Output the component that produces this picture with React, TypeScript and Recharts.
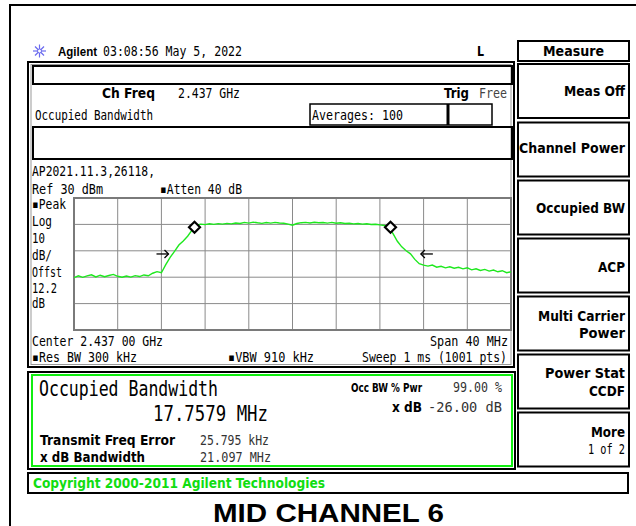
import React from "react";
import { ComposedChart, Line, Scatter, XAxis, YAxis, CartesianGrid, ReferenceArea } from "recharts";

// offset from centre frequency (MHz) and trace level (dBm)
const freqMHz = [
  -20, -19.6, -19.2, -18.8, -18.4, -18, -17.6, -17.2, -16.8, -16.4,
  -16, -15.6, -15.2, -14.8, -14.4, -14, -13.6, -13.2, -12.8, -12.4,
  -12, -11.6, -11.2, -10.8, -10.4, -10, -9.6, -9.2, -8.8, -8.4,
  -8, -7.6, -7.2, -6.8, -6.4, -6, -5.6, -5.2, -4.8, -4.4,
  -4, -3.6, -3.2, -2.8, -2.4, -2, -1.6, -1.2, -0.8, -0.4,
  0, 0.4, 0.8, 1.2, 1.6, 2, 2.4, 2.8, 3.2, 3.6,
  4, 4.4, 4.8, 5.2, 5.6, 6, 6.4, 6.8, 7.2, 7.6,
  8, 8.4, 8.8, 9.2, 9.6, 10, 10.4, 10.8, 11.2, 11.6,
  12, 12.4, 12.8, 13.2, 13.6, 14, 14.4, 14.8, 15.2, 15.6,
  16, 16.4, 16.8, 17.2, 17.6, 18, 18.4, 18.8, 19.2, 19.6,
  20,
];
const levelDbm = [
  -30.4, -28.9, -30.1, -29.0, -28.2, -29.8, -28.5, -29.6, -28.7, -27.9,
  -29.3, -30.0, -29.1, -29.9, -28.8, -29.5, -28.3, -28.9, -27.0, -25.8,
  -26.6, -20.5, -15.0, -10.4, -5.6, -2.5, 1.0, 5.6, 9.3, 10.2,
  9.8, 10.5, 10.0, 10.6, 10.2, 10.8, 10.4, 11.1, 10.7, 11.5,
  11.0, 11.7, 11.2, 10.8, 11.4, 11.0, 11.5, 11.1, 10.9, 10.2,
  9.4, 10.7, 11.3, 11.5, 11.1, 11.6, 11.2, 11.4, 11.0, 11.5,
  10.9, 11.2, 10.7, 10.9, 10.4, 10.7, 10.2, 10.5, 9.9, 10.1,
  9.6, 9.2, 8.5, 3.0, -2.8, -7.0, -10.0, -12.3, -16.5, -19.8,
  -20.9, -21.6, -20.8, -22.4, -21.7, -22.9, -22.1, -23.2, -22.5, -23.7,
  -22.9, -24.4, -23.6, -24.9, -24.1, -25.4, -24.6, -25.9, -25.1, -26.6,
  -25.9,
];

const markerFreq = [-8.97, 8.97];
const markerLevel = [7.8, 7.8];
const arrowFreq = [-11.9, 12.3];
const arrowLevel = [-12.4, -12.4];
const arrowDir = ["right", "left"];

const xTicks = [-20, -16, -12, -8, -4, 0, 4, 8, 12, 16, 20];
const yTicks = [30, 20, 10, 0, -10, -20, -30, -40, -50, -60, -70];

const trace = freqMHz.map((f, i) => ({ freq: f, level: levelDbm[i] }));
const markers = markerFreq.map((f, i) => ({ freq: f, level: markerLevel[i] }));
const arrows = arrowFreq.map((f, i) => ({ freq: f, level: arrowLevel[i], dir: arrowDir[i] }));

const MONO = "'DejaVu Sans Mono', monospace";
const BOLD = "'DejaVu Sans', sans-serif";

function T({ x, y, w, end, bold, size, color, family, children }: any) {
  return (
    <text
      x={x}
      y={y}
      textLength={w}
      lengthAdjust="spacingAndGlyphs"
      textAnchor={end ? "end" : "start"}
      fontFamily={family || (bold ? BOLD : MONO)}
      fontWeight={bold ? "bold" : "normal"}
      fontSize={size || (bold ? 14 : 14.5)}
      fill={color || "#000"}
    >
      {children}
    </text>
  );
}

function Diamond(props: any) {
  const { cx, cy } = props;
  return (
    <path
      d={`M${cx},${cy - 5.5}L${cx + 5.5},${cy}L${cx},${cy + 5.5}L${cx - 5.5},${cy}Z`}
      fill="#fff"
      stroke="#000"
      strokeWidth={2.2}
    />
  );
}

function Arrow(props: any) {
  const { cx, cy, payload } = props;
  const d = payload.dir === "right" ? 1 : -1;
  const tip = cx + 6 * d;
  const tail = cx - 6 * d;
  return (
    <g stroke="#000" strokeWidth={1.3} fill="none">
      <line x1={tail} y1={cy} x2={tip} y2={cy} />
      <polyline points={`${tip - 4 * d},${cy - 4} ${tip},${cy} ${tip - 4 * d},${cy + 4}`} />
    </g>
  );
}

const softkeys = [
  { top: 64, lines: [{ t: "Meas Off", w: 61, y: 96 }] },
  { top: 122.5, lines: [{ t: "Channel Power", w: 106, y: 153 }] },
  { top: 180.5, lines: [{ t: "Occupied BW", w: 89, y: 212.5 }] },
  { top: 238.5, lines: [{ t: "ACP", w: 27, y: 271.5 }] },
  { top: 296.5, lines: [{ t: "Multi Carrier", w: 87, y: 320.5 }, { t: "Power", w: 46, y: 338 }] },
  { top: 354.5, lines: [{ t: "Power Stat", w: 80, y: 378 }, { t: "CCDF", w: 36, y: 395.5 }] },
  { top: 412.5, lines: [{ t: "More", w: 34, y: 437 }] },
];

export default function App() {
  const leftLabels = [
    { t: "▪Peak", w: 34, y: 209 },
    { t: "Log", w: 20, y: 226 },
    { t: "10", w: 13, y: 242.5 },
    { t: "dB/", w: 20, y: 260 },
    { t: "Offst", w: 30, y: 276.5 },
    { t: "12.2", w: 25, y: 292.5 },
    { t: "dB", w: 13, y: 308 },
  ];
  return (
    <div style={{ position: "absolute", left: 0, top: 0, width: 636, height: 526, background: "#fff", overflow: "hidden" }}>
      <svg width={636} height={526} style={{ position: "absolute", left: 0, top: 0 }}>
        {/* outer frame */}
        <line x1={10} y1={4} x2={10} y2={526} stroke="#000" strokeWidth={2} />
        <line x1={9} y1={5} x2={636} y2={5} stroke="#000" strokeWidth={2} />

        {/* header */}
        <g stroke="#6b6bef" strokeWidth={1.2}>
          <line x1={33} y1={51} x2={46} y2={51} />
          <line x1={39.5} y1={44.5} x2={39.5} y2={57.5} />
          <line x1={35} y1={46.5} x2={44} y2={55.5} />
          <line x1={35} y1={55.5} x2={44} y2={46.5} />
        </g>
        <circle cx={39.5} cy={51} r={2} fill="#fff" stroke="#6b6bef" strokeWidth={1} />
        <T x={58} y={56} w={39} bold size={13} family="'Liberation Sans', Arial, sans-serif">Agilent</T>
        <T x={103} y={56} w={139}>03:08:56  May 5, 2022</T>
        <T x={477} y={56} w={7} bold>L</T>

        {/* main panel */}
        <rect x={28} y={62} width={486} height={305} fill="none" stroke="#000" strokeWidth={2} />
        <rect x={31} y={64.5} width={480} height={300} fill="none" stroke="#999" strokeWidth={1} />
        <rect x={33} y={66} width={479} height={18} fill="none" stroke="#000" strokeWidth={2} />
        <T x={102} y={97.5} w={53} bold>Ch Freq</T>
        <T x={178} y={97.5} w={62}>2.437 GHz</T>
        <T x={444} y={97.5} w={25} bold>Trig</T>
        <T x={479} y={97.5} w={28} color="#444">Free</T>
        <T x={35} y={120} w={118}>Occupied Bandwidth</T>
        <rect x={310} y={104} width={182} height={21} fill="none" stroke="#000" strokeWidth={1.5} />
        <line x1={448} y1={104} x2={448} y2={125} stroke="#000" strokeWidth={3} />
        <T x={312} y={120} w={91}>Averages: 100</T>
        <rect x={33} y={127} width={479} height={32} fill="none" stroke="#000" strokeWidth={2} />
        <T x={32} y={175.5} w={123}>AP2021.11.3,26118,</T>
        <T x={32} y={193.5} w={71}>Ref 30 dBm</T>
        <T x={160} y={193.5} w={82}>▪Atten 40 dB</T>
        {leftLabels.map((l) => (
          <T key={l.t} x={32} y={l.y} w={l.w}>{l.t}</T>
        ))}
        <T x={32} y={345.5} w={131}>Center 2.437 00 GHz</T>
        <T x={508} y={345.5} w={78} end>Span 40 MHz</T>
        <T x={32} y={362} w={105}>▪Res BW 300 kHz</T>
        <T x={228} y={362} w={86}>▪VBW 910 kHz</T>
        <T x={507} y={362} w={145} end>Sweep 1 ms (1001 pts)</T>

        {/* results box */}
        <rect x={28} y={372} width={487} height={97} fill="none" stroke="#000" strokeWidth={2} />
        <rect x={32} y={375} width={480} height={91} fill="none" stroke="#11ee11" strokeWidth={2} />
        <T x={39} y={396} w={179} size={22}>Occupied Bandwidth</T>
        <T x={153} y={421} w={115} size={22}>17.7579 MHz</T>
        <T x={40} y={444.5} w={135} bold>Transmit Freq Error</T>
        <T x={200} y={444.5} w={69} color="#333">25.795 kHz</T>
        <T x={40} y={461.5} w={105} bold>x dB Bandwidth</T>
        <T x={200} y={461.5} w={71} color="#333">21.097 MHz</T>
        <T x={351} y={392} w={71} bold size={13}>Occ BW % Pwr</T>
        <T x={502} y={392} w={49} end color="#333">99.00 %</T>
        <T x={422} y={412} w={30} bold end>x dB</T>
        <T x={502} y={412} w={74} end color="#333">-26.00 dB</T>

        {/* copyright bar */}
        <rect x={28} y={473} width={600} height={20} fill="none" stroke="#000" strokeWidth={2} />
        <T x={33} y={488} w={292} bold color="#11dd11">Copyright 2000-2011 Agilent Technologies</T>

        {/* caption */}
        <T x={213} y={522} w={231} bold size={26} family="'Liberation Sans', Arial, sans-serif">MID CHANNEL 6</T>

        {/* softkeys */}
        <rect x={518} y={41} width={111} height={20} fill="none" stroke="#000" strokeWidth={2} />
        <T x={543} y={56} w={61} bold>Measure</T>
        {softkeys.map((k) => (
          <g key={k.top}>
            <rect x={518} y={k.top} width={111} height={54} fill="none" stroke="#000" strokeWidth={2} />
            {k.lines.map((l) => (
              <T key={l.t} x={625} y={l.y} w={l.w} bold end>{l.t}</T>
            ))}
          </g>
        ))}
        <T x={625} y={453.5} w={37} end>1 of 2</T>
      </svg>

      <div style={{ position: "absolute", left: 64, top: 188 }}>
        <ComposedChart width={457} height={152} data={trace} margin={{ top: 10, right: 10, bottom: 10, left: 10 }}>
          <XAxis dataKey="freq" type="number" domain={[-20, 20]} ticks={xTicks} hide allowDataOverflow />
          <YAxis type="number" domain={[-70, 30]} ticks={yTicks} hide allowDataOverflow />
          <CartesianGrid stroke="#8a8a8a" strokeWidth={1} />
          <ReferenceArea x1={-20} x2={20} y1={-70} y2={30} fill="none" stroke="#7a7a7a" strokeWidth={2} />
          <Line dataKey="level" type="linear" stroke="#1ee81e" strokeWidth={1.4} dot={false} isAnimationActive={false} />
          <Scatter data={markers} dataKey="level" shape={Diamond} isAnimationActive={false} />
          <Scatter data={arrows} dataKey="level" shape={Arrow} isAnimationActive={false} />
        </ComposedChart>
      </div>
    </div>
  );
}
